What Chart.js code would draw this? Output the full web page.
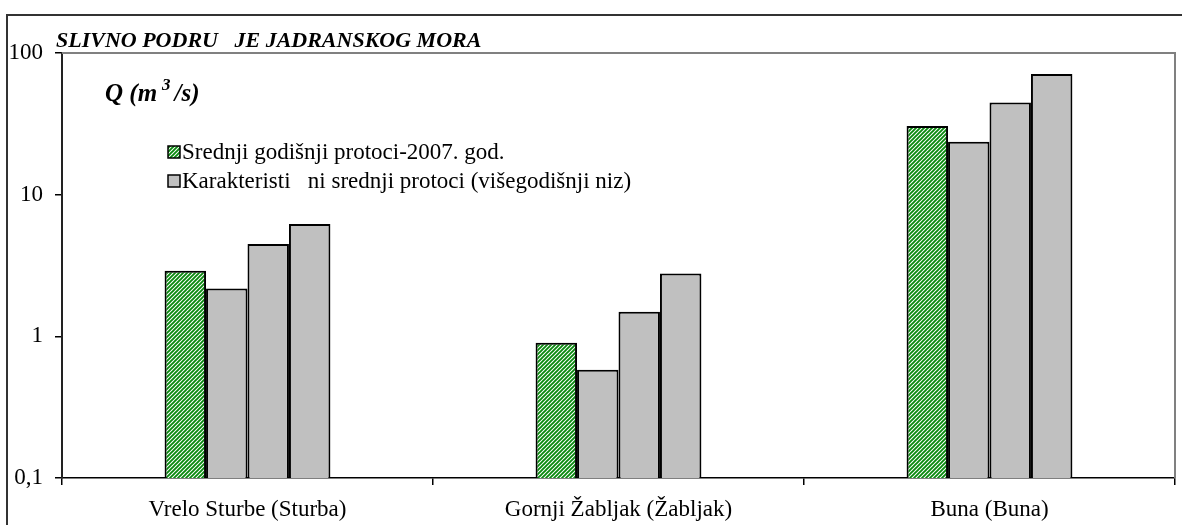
<!DOCTYPE html>
<html>
<head>
<meta charset="utf-8">
<script src="https://cdn.jsdelivr.net/npm/chart.js@4/dist/chart.umd.min.js"></script>
<style>
  html, body { margin: 0; padding: 0; background: #fff; }
</style>
</head>
<body>
<canvas id="myChart" width="1182" height="525"></canvas>
<script>
// data
const categories = ['Vrelo Sturbe (Sturba)', 'Gornji Žabljak (Žabljak)', 'Buna (Buna)'];
const protoci2007 = [2.9, 0.9, 30.5];
const karakteristicni1 = [2.18, 0.58, 23.6];
const karakteristicni2 = [4.48, 1.49, 44.8];
const karakteristicni3 = [6.2, 2.78, 71.0];
const yTicks = [0.1, 1, 10, 100];
const yTickLabels = ['0,1', '1', '10', '100'];
const legendLabels = ['Srednji godišnji protoci-2007. god.', 'Karakteristi   ni srednji protoci (višegodišnji niz)'];
const titleText = 'SLIVNO PODRU   JE JADRANSKOG MORA';

const FONT = 'Liberation Serif';
const GRAY = '#c0c0c0';

// green diagonal hatch like the Excel pattern fill
function makeHatch(ctx) {
  const s = 4;
  const c = document.createElement('canvas');
  c.width = s; c.height = s;
  const g = c.getContext('2d');
  g.fillStyle = '#ffffff';
  g.fillRect(0, 0, s, s);
  g.strokeStyle = '#0a8a0f';
  g.lineWidth = 1.9;
  g.beginPath();
  g.moveTo(-1, s + 1); g.lineTo(s + 1, -1);
  g.moveTo(-1, 1); g.lineTo(1, -1);
  g.moveTo(s - 1, s + 1); g.lineTo(s + 1, s - 1);
  g.stroke();
  return ctx.createPattern(c, 'repeat');
}

const canvas = document.getElementById('myChart');
const hatch = makeHatch(canvas.getContext('2d'));

const decor = {
  id: 'decor',
  beforeDraw(chart) {
    const ctx = chart.ctx;
    ctx.save();
    ctx.fillStyle = '#fff';
    ctx.fillRect(0, 0, chart.width, chart.height);
    // outer frame, runs off the right and bottom edge
    ctx.strokeStyle = '#333';
    ctx.lineWidth = 2;
    ctx.strokeRect(7, 15, chart.width + 20, chart.height + 20);
    ctx.restore();
  },
  beforeDatasetsDraw(chart) {
    const a = chart.chartArea;
    const ctx = chart.ctx;
    ctx.save();
    ctx.strokeStyle = '#808080';
    ctx.lineWidth = 2;
    ctx.beginPath();
    ctx.moveTo(a.left, a.top);
    ctx.lineTo(a.right, a.top);
    ctx.lineTo(a.right, a.bottom);
    ctx.stroke();
    ctx.restore();
  },
  afterDraw(chart) {
    const ctx = chart.ctx;
    ctx.save();
    ctx.fillStyle = '#000';
    ctx.textBaseline = 'alphabetic';
    ctx.textAlign = 'left';

    // title
    ctx.font = 'italic bold 22px "' + FONT + '"';
    ctx.fillText(titleText, 56, 47);

    // unit label Q (m3/s)
    ctx.font = 'italic bold 25px "' + FONT + '"';
    let x = 105;
    ctx.fillText('Q (m', x, 101);
    x += ctx.measureText('Q (m').width + 5;
    ctx.font = 'italic bold 17px "' + FONT + '"';
    ctx.fillText('3', x, 90);
    x += ctx.measureText('3').width + 4;
    ctx.font = 'italic bold 25px "' + FONT + '"';
    ctx.fillText('/s)', x, 101);

    // legend
    const fills = [hatch, GRAY];
    const rows = [152, 181];
    ctx.font = '23px "' + FONT + '"';
    ctx.textBaseline = 'middle';
    legendLabels.forEach((t, i) => {
      const y = rows[i];
      ctx.fillStyle = fills[i];
      ctx.fillRect(168, y - 6, 12, 12);
      ctx.strokeStyle = '#000';
      ctx.lineWidth = 1.5;
      ctx.strokeRect(168, y - 6, 12, 12);
      ctx.fillStyle = '#000';
      ctx.fillText(t, 182, y + 1);
    });
    ctx.restore();
  }
};

const barStyle = { borderColor: '#000', borderWidth: 2, borderSkipped: 'start' };

new Chart(canvas, {
  type: 'bar',
  data: {
    labels: categories,
    datasets: [
      { label: legendLabels[0], data: protoci2007, backgroundColor: hatch, ...barStyle },
      { label: legendLabels[1], data: karakteristicni1, backgroundColor: GRAY, ...barStyle },
      { label: legendLabels[1], data: karakteristicni2, backgroundColor: GRAY, ...barStyle },
      { label: legendLabels[1], data: karakteristicni3, backgroundColor: GRAY, ...barStyle }
    ]
  },
  options: {
    responsive: false,
    animation: false,
    devicePixelRatio: 1,
    layout: { padding: { top: 53, right: 7, left: 0, bottom: 0 } },
    datasets: { bar: { barPercentage: 1, categoryPercentage: 0.447 } },
    plugins: {
      legend: { display: false },
      title: { display: false },
      tooltip: { enabled: false }
    },
    scales: {
      x: {
        offset: true,
        grid: { offset: true, drawOnChartArea: false, tickLength: 7, color: '#000', lineWidth: 1.5 },
        border: { color: '#000', width: 1.5 },
        ticks: { font: { family: FONT, size: 23 }, color: '#000', padding: 11, maxRotation: 0, autoSkip: false },
        afterFit: (s) => { s.height = 47; }
      },
      y: {
        type: 'logarithmic',
        min: 0.1,
        max: 100,
        afterBuildTicks: (s) => { s.ticks = yTicks.map(v => ({ value: v })); },
        ticks: {
          font: { family: FONT, size: 23 },
          color: '#000',
          padding: 12,
          callback: (v) => {
            const i = yTicks.indexOf(v);
            return i >= 0 ? yTickLabels[i] : '';
          }
        },
        grid: { drawOnChartArea: false, tickLength: 7, color: '#000', lineWidth: 1.5 },
        border: { color: '#222', width: 2 },
        afterFit: (s) => { s.width = 62; }
      }
    }
  },
  plugins: [decor]
});
</script>
</body>
</html>
